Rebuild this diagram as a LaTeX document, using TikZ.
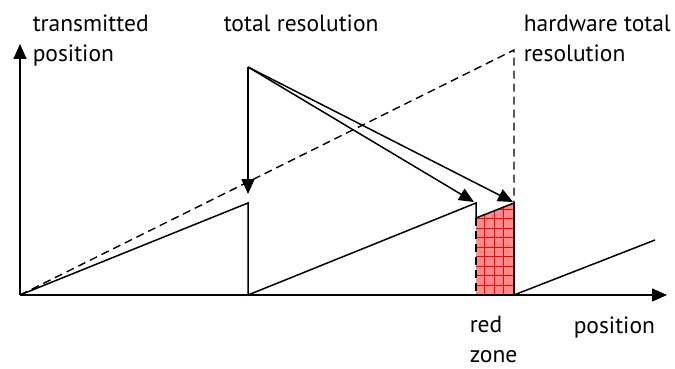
\documentclass[tikz,border=0pt]{standalone}
\usepackage{fontspec}
\setmainfont{PT Sans}
\usepackage{xcolor}
\usepackage{tikz}
\usetikzlibrary{arrows.meta}

\begin{document}
\begin{tikzpicture}[
    x=1pt, y=-1pt,
    line width=1.5pt,
    tip/.style={-{Triangle[width=13pt,length=15pt]}},
    saw/.style={line width=1.5pt},
    guide/.style={dashed, dash pattern=on 8pt off 5pt, line width=1.4pt},
    lbl/.style={
        anchor=base west,
        inner sep=0pt,
        align=left,
        font=\fontsize{23.5}{30}\selectfont
    }
]
\useasboundingbox (0,0) rectangle (675,369);

% axes and corners
\coordinate (origin) at (20,295);
\coordinate (xend) at (667,295);
\coordinate (yend) at (20,44);
\coordinate (peak) at (248,67);
\coordinate (hwtop) at (514,50);
\coordinate (top1) at (248,203);
\coordinate (foot1) at (248,295);
\coordinate (top2) at (476,203);
\coordinate (rzl) at (476,218);
\coordinate (rzr) at (514,203);
\coordinate (rzlb) at (476,295);
\coordinate (rzrb) at (514,295);
\coordinate (last) at (655,240);

% red zone
\fill[red!45] (rzl) -- (rzr) -- (rzrb) -- (rzlb) -- cycle;
\begin{scope}
  \clip (rzl) -- (rzr) -- (rzrb) -- (rzlb) -- cycle;
  \draw[red, line width=0.6pt, step=9.5pt] (476,190) grid (520,300);
\end{scope}

\draw[tip] (origin) -- (xend);
\draw[tip] (origin) -- (yend);

% hardware resolution
\draw[guide] (origin) -- (hwtop) -- (rzr);
\draw[guide] (rzl) -- (rzlb);

% sawtooth
\draw[saw] (origin) -- (top1) -- (foot1) -- (top2) -- (rzl) -- (rzr) -- (rzrb) -- (last);

% resolution arrows
\draw[tip] (peak) -- (248,194);
\draw[tip] (peak) -- (474,202);
\draw[tip] (peak) -- (513,202);

% labels (base = last line)
\node[lbl] (ylabel) at (32,62) {transmitted\\position};
\node[lbl] (total) at (223,32) {total resolution};
\node[lbl] (hw) at (523,62) {hardware total\\resolution};
\node[lbl] (red) at (469,362) {red\\zone};
\node[lbl] (xlabel) at (573,333) {position};

\end{tikzpicture}
\end{document}
